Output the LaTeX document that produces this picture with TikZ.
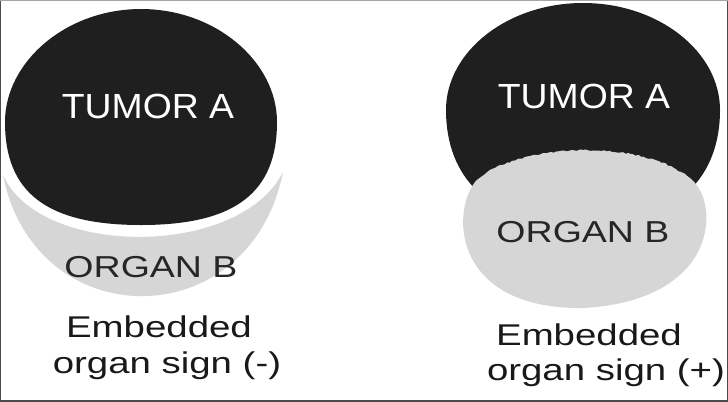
\documentclass[tikz,border=0pt]{standalone}
\usepackage{fontspec}
\setmainfont{Liberation Sans}
\newfontfamily\tumorfont[FakeStretch=1.07]{Liberation Sans}
\newfontfamily\organfont[FakeStretch=1.24]{Liberation Sans}
\newfontfamily\signfont[FakeStretch=1.28]{Liberation Sans}
\usetikzlibrary{decorations.pathmorphing}

\begin{document}
\begin{tikzpicture}[x=0.75pt,y=-0.75pt,
	tumor/.style={fill=black!88},
	organ/.style={fill=black!16},
	tumor text/.style={anchor=base,inner sep=0pt,text=white,font=\tumorfont\fontsize{26.2}{30}\selectfont},
	organ text/.style={anchor=base,inner sep=0pt,text=black!85,font=\organfont\fontsize{22.7}{27}\selectfont},
	sign text/.style={anchor=base,inner sep=0pt,text=black!90,font=\signfont\fontsize{22.5}{27}\selectfont}]
			
			\useasboundingbox (0,0) rectangle (728,401);
			\fill[white] (0,0) rectangle (728,401);
			\pgfmathsetseed{11}
			
			% left: organ B below tumor A
			\fill[organ] (3,175) .. controls (40,258) and (240,258) .. (283,172)
				.. controls (250,337) and (35,337) .. (3,175) -- cycle;
			\fill[tumor] (141,9) .. controls (216,9) and (277,62) .. (277,122)
				.. controls (277,192) and (236,225) .. (141,225)
				.. controls (46,225) and (5,192) .. (5,122)
				.. controls (5,62) and (66,9) .. (141,9) -- cycle;
			
			% right: organ B pressed into tumor A
			\fill[tumor] (583,3) .. controls (659,3) and (720,52) .. (720,110)
				.. controls (720,175) and (680,225) .. (583,225)
				.. controls (486,225) and (446,175) .. (446,110)
				.. controls (446,52) and (507,3) .. (583,3) -- cycle;
			\fill[organ] (475,182)
				decorate[decoration={random steps,segment length=2pt,amplitude=.6pt}] {.. controls (510,145) and (640,135) .. (692,180)}
				.. controls (720,205) and (718,300) .. (584,308)
				.. controls (455,310) and (450,215) .. (475,182) -- cycle;
			
			\node[tumor text] (tumorL) at (148,118) {TUMOR A};
			\node[organ text] (organL) at (151,277) {ORGAN B};
			\node[sign text] (embL) at (159,337) {Embedded};
			\node[sign text] (signL) at (167,373) {organ sign (-)};
			
			\node[tumor text] (tumorR) at (584,108) {TUMOR A};
			\node[organ text] (organR) at (583,242) {ORGAN B};
			\node[sign text] (embR) at (589,345) {Embedded};
			\node[sign text] (signR) at (606,380) {organ sign (+)};
			
			% frame
			\draw[black!70,line width=1.1pt] (0,0) rectangle (728,401);
			\draw[black!35,line width=2.2pt] (0,0) -- (728,0);
			\end{tikzpicture}
\end{document}
